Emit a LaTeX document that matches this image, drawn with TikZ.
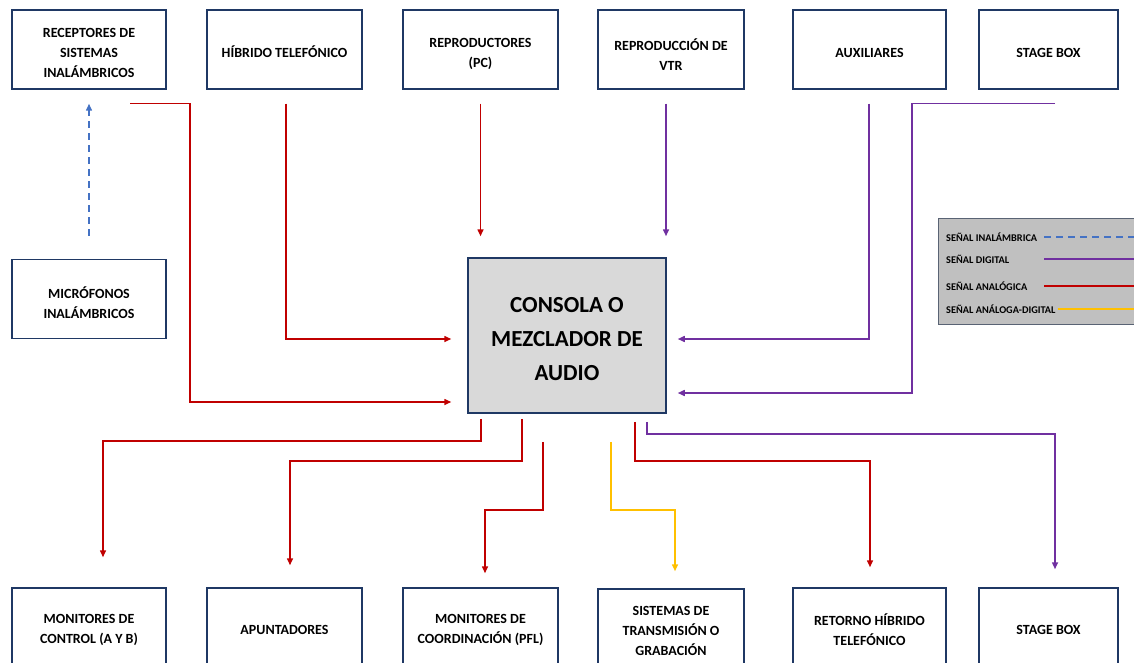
\documentclass[tikz,border=0pt]{standalone}
\usepackage{fontspec}
\setmainfont{Carlito}
\usetikzlibrary{arrows.meta}
\definecolor{marco}{HTML}{1F3864}
\definecolor{rojo}{HTML}{C00000}
\definecolor{morado}{HTML}{7030A0}
\definecolor{azul}{HTML}{4472C4}
\definecolor{amarillo}{HTML}{FFC000}
\definecolor{grisconsola}{HTML}{D9D9D9}
\definecolor{grisleyenda}{HTML}{C0C0C0}
\newcommand{\bajar}[1]{\rule{0pt}{#1}}

\begin{document}
\begin{tikzpicture}[x=1pt, y=-1pt,
    caja/.style={draw=marco, line width=1.5pt, fill=white, minimum height=79pt, align=center,
      font=\fontsize{14}{20}\selectfont\bfseries},
    cajaalta/.style={caja, execute at begin node={\bajar{17pt}}},
    cajabaja/.style={caja, minimum height=84pt},
    senal/.style={line width=1.5pt, -{Triangle[length=7pt,width=6pt]}},
    analogica/.style={senal, rojo},
    digital/.style={senal, morado},
    inalambrica/.style={senal, azul, dash pattern=on 7pt off 5pt},
    anadig/.style={senal, amarillo},
    leyenda/.style={anchor=west, inner sep=0pt, font=\fontsize{10.3}{12}\selectfont\bfseries}]
    \useasboundingbox (0,0) rectangle (1134,663);
    \clip (0,0) rectangle (1134,663);

    % fuentes
    \node[caja, minimum width=154pt] (recep) at (89,49.5) {\bajar{16pt}RECEPTORES DE\\SISTEMAS\\INALÁMBRICOS};
    \node[cajaalta, minimum width=155pt] (hibrido) at (284.5,49.5) {HÍBRIDO TELEFÓNICO};
    \node[caja, minimum width=155pt] (repro) at (480.5,49.5) {\bajar{18pt}REPRODUCTORES\\(PC)};
    \node[caja, minimum width=146pt] (vtr) at (671,49.5) {\bajar{23pt}REPRODUCCIÓN DE\\VTR};
    \node[cajaalta, minimum width=153pt] (aux) at (869.5,49.5) {AUXILIARES};
    \node[cajaalta, minimum width=139pt] (stagein) at (1048.5,49.5) {STAGE BOX};
    \node[caja, minimum width=154pt] (mic) at (89,299) {\bajar{19pt}MICRÓFONOS\\INALÁMBRICOS};

    \node[draw=marco, line width=1.5pt, fill=grisconsola, minimum width=198pt, minimum height=155pt,
      align=center, font=\fontsize{23}{34}\selectfont\bfseries] (consola) at (567,335.5) {\bajar{21.5pt}CONSOLA O\\MEZCLADOR DE\\AUDIO};

    % destinos
    \node[cajabaja, minimum width=154pt] (moncon) at (89,630) {MONITORES DE\\CONTROL (A Y B)};
    \node[cajabaja, minimum width=155pt] (apunt) at (284.5,630) {APUNTADORES};
    \node[cajabaja, minimum width=155pt] (moncoord) at (480.5,630) {MONITORES DE\\COORDINACIÓN (PFL)};
    \node[cajabaja, minimum width=146pt] (sistemas) at (671,631) {SISTEMAS DE\\TRANSMISIÓN O\\GRABACIÓN};
    \node[cajabaja, minimum width=153pt] (retorno) at (869.5,630) {RETORNO HÍBRIDO\\TELEFÓNICO};
    \node[cajabaja, minimum width=139pt] (stageout) at (1048.5,630) {STAGE BOX};

    % entradas
    \draw[inalambrica, shorten <=23pt, shorten >=14pt] (mic.north) -- (recep.south);
    \draw[analogica] ([xshift=41pt,yshift=-14pt]recep.south) -- ++(60,0) |- ([xshift=-16pt,yshift=-66.5pt]consola.west);
    \draw[analogica] ([xshift=1.5pt,yshift=-14pt]hibrido.south) |- ([xshift=-16pt,yshift=-3.5pt]consola.west);
    \draw[analogica, shorten <=14pt, shorten >=21pt] (repro.south) -- (repro.south |- consola.north);
    \draw[digital, shorten <=14pt, shorten >=21pt] ([xshift=-5pt]vtr.south) -- ([xshift=-5pt]vtr.south |- consola.north);
    \draw[digital] ([xshift=-0.5pt,yshift=-14pt]aux.south) |- ([xshift=11pt,yshift=-3.5pt]consola.east);
    \draw[digital] ([xshift=6.5pt,yshift=-14pt]stagein.south) -- ++(-143,0) |- ([xshift=11pt,yshift=-57.5pt]consola.east);

    % salidas
    \draw[analogica] ([xshift=-86pt,yshift=-5pt]consola.south) -- ++(0,22) -| ([xshift=14pt,yshift=30pt]moncon.north);
    \draw[analogica] ([xshift=-45pt,yshift=-5pt]consola.south) -- ++(0,42) -| ([xshift=5.5pt,yshift=22pt]apunt.north);
    \draw[analogica] ([xshift=-24pt,yshift=-28pt]consola.south) -- ++(0,68) -| ([xshift=4.5pt,yshift=14pt]moncoord.north);
    \draw[anadig] ([xshift=44pt,yshift=-28pt]consola.south) -- ++(0,68) -| ([xshift=4pt,yshift=17pt]sistemas.north);
    \draw[analogica] ([xshift=68pt,yshift=-8pt]consola.south) -- ++(0,39) -| ([xshift=0.5pt,yshift=20pt]retorno.north);
    \draw[digital] ([xshift=80pt,yshift=-8pt]consola.south) -- ++(0,12) -| ([xshift=6.5pt,yshift=18pt]stageout.north);

    % leyenda
    \draw[draw=marco!40!gray, line width=1pt, fill=grisleyenda] (938,218) rectangle (1140,324);
    \coordinate (inicio) at (1044,0);
    \coordinate (borde) at (1136,0);
    \node[leyenda] (l-inal) at (946,237) {SEÑAL INALÁMBRICA};
    \node[leyenda] (l-dig) at (946,259) {SEÑAL DIGITAL};
    \node[leyenda] (l-ana) at (946,286) {SEÑAL ANALÓGICA};
    \node[leyenda] (l-anadig) at (946,309) {SEÑAL ANÁLOGA-DIGITAL};
    \draw[azul, line width=1.5pt, dash pattern=on 7pt off 5pt] (l-inal.east -| inicio) -- (l-inal.east -| borde);
    \draw[morado, line width=1.5pt] (l-dig.east -| inicio) -- (l-dig.east -| borde);
    \draw[rojo, line width=1.5pt] (l-ana.east -| inicio) -- (l-ana.east -| borde);
    \draw[amarillo, line width=1.5pt] ([xshift=2pt]l-anadig.east) -- (l-anadig.east -| borde);
\end{tikzpicture}
\end{document}
